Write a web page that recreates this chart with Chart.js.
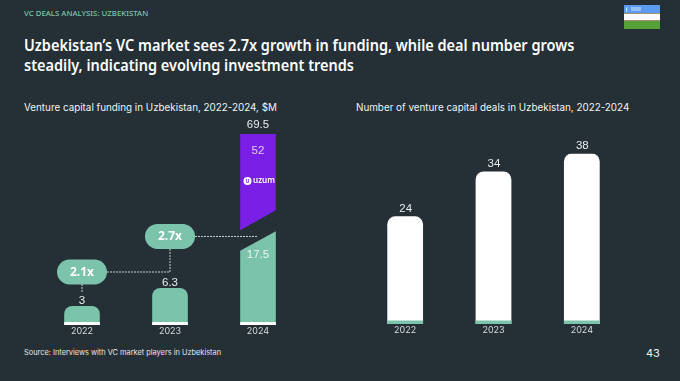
<!DOCTYPE html>
<html lang="en">
<head>
<meta charset="UTF-8">
<title>VC deals analysis: Uzbekistan</title>
<script src="https://cdn.jsdelivr.net/npm/chart.js"></script>
<style>
  html, body { margin: 0; padding: 0; }
  body { width: 680px; height: 381px; background: #242f36; position: relative; overflow: hidden; font-family: "Inter", sans-serif; }
  .t { position: absolute; white-space: nowrap; }
  canvas { position: absolute; }
  #kicker { left: 24px; top: 6.5px; font: 500 7.8px/12px "Noto Sans", sans-serif; color: #7bc4ab; }
  #headline { left: 23.5px; top: 36px; font: 600 15.5px/19.5px "Noto Sans", sans-serif; color: #fff; transform: scaleX(0.935); transform-origin: left top; }
  .sub { top: 100px; font: 400 9.85px/14px "Inter", sans-serif; color: #f2f4f4; }
  #source { left: 24px; top: 347px; font: 400 7.4px/12px "Inter", sans-serif; color: #e4e8e8; }
  #page { left: 646px; top: 346px; font: 400 11px/14px "Inter", sans-serif; color: #f2f4f4; }
  #flag { position: absolute; left: 624px; top: 5px; width: 36px; height: 24px;
    background: linear-gradient(#5b9bf0 0 8px, #a88f70 8px 8.6px, #fff 8.6px 15.4px, #a88f70 15.4px 16px, #55a038 16px); }
  #flag i { position: absolute; left: 2px; top: 1.5px; width: 3px; height: 5px; border-left: 1px solid #fff; border-radius: 50%; }
  #flag b { position: absolute; left: 7px; top: 2px; width: 10px; height: 4px;
    background: radial-gradient(circle, #dcebff 0.6px, transparent 0.8px) 0 0 / 2px 2px; }
</style>
</head>
<body>
<div class="t" id="kicker">VC DEALS ANALYSIS: UZBEKISTAN</div>
<div id="flag"><i></i><b></b></div>
<div class="t" id="headline">Uzbekistan’s VC market sees 2.7x growth in funding, while deal number grows<br>steadily, indicating evolving investment trends</div>
<div class="t sub" style="left:24px">Venture capital funding in Uzbekistan, 2022-2024, $M</div>
<div class="t sub" style="left:356px">Number of venture capital deals in Uzbekistan, 2022-2024</div>
<canvas id="funding" width="264" height="235" style="left:38px;top:110px"></canvas>
<canvas id="deals" width="265" height="234" style="left:361px;top:110px"></canvas>
<div class="t" id="source">Source: Interviews with VC market players in Uzbekistan</div>
<div class="t" id="page">43</div>

<script>
const years = ['2022', '2023', '2024'];
const otherFunding = [3, 6.3, 17.5];
const uzumFunding = [null, null, 52];
const fundingTotals = ['3', '6.3', '69.5'];
const growthLabels = ['2.1x', '2.7x'];
const dealCounts = [24, 34, 38];

const BG = '#242f36', TEAL = '#7bc4ab', PURPLE = '#7a1fe6', TICK = '#d9dfdf';
const NUM_FONT = '11.5px "Liberation Sans", sans-serif';

// the funding axis in the original is not to scale, the 2024 bar is cut
class BrokenScale extends Chart.LinearScale {
  getPixelForValue(v) {
    if (v === null || v === undefined) return NaN;
    const vals = this.options.stopValues, fr = this.options.stopFractions;
    let i = 1;
    while (i < vals.length - 1 && v > vals[i]) i++;
    const f = fr[i - 1] + (v - vals[i - 1]) / (vals[i] - vals[i - 1]) * (fr[i] - fr[i - 1]);
    return this.getPixelForDecimal(f);
  }
}
BrokenScale.id = 'broken';
BrokenScale.defaults = {};
Chart.register(BrokenScale);

function label(ctx, text, x, y, color, font) {
  ctx.fillStyle = color;
  ctx.font = font || NUM_FONT;
  ctx.textAlign = 'center';
  ctx.textBaseline = 'middle';
  ctx.fillText(text, x, y);
}

function dashed(ctx, pts) {
  ctx.save();
  ctx.strokeStyle = '#c9d2d2';
  ctx.lineWidth = 1;
  ctx.setLineDash([2, 1]);
  ctx.beginPath();
  pts.forEach((p, i) => i ? ctx.lineTo(p[0], p[1]) : ctx.moveTo(p[0], p[1]));
  ctx.stroke();
  ctx.restore();
}

function pill(ctx, text, x, y) {
  ctx.fillStyle = TEAL;
  ctx.beginPath();
  ctx.roundRect(x - 25, y - 12.5, 50, 25, 12.5);
  ctx.fill();
  label(ctx, text, x, y + 0.5, '#fff', '700 12px "Noto Sans", sans-serif');
}

const fundingMarks = {
  id: 'fundingMarks',
  afterDatasetsDraw(chart) {
    const ctx = chart.ctx;
    const teal = chart.getDatasetMeta(0).data;
    const uzum = chart.getDatasetMeta(1).data[2];
    const base = chart.scales.y.bottom;

    // white strip at the foot of each bar
    ctx.fillStyle = '#fff';
    teal.forEach(b => ctx.fillRect(b.x - b.width / 2, base - 3, b.width, 3));

    // slanted cut between the two parts of the 2024 bar
    const L = uzum.x - uzum.width / 2 - 0.5, R = uzum.x + uzum.width / 2 + 0.5, y = uzum.base;
    ctx.fillStyle = BG;
    ctx.beginPath();
    ctx.moveTo(L, y);
    ctx.lineTo(R, y - 20.5);
    ctx.lineTo(R, y + 0.5);
    ctx.lineTo(L, y + 20.5);
    ctx.closePath();
    ctx.fill();

    label(ctx, fundingTotals[0], teal[0].x, teal[0].y - 5.5, '#e8ecec');
    label(ctx, fundingTotals[1], teal[1].x, teal[1].y - 5.5, '#e8ecec');
    label(ctx, fundingTotals[2], uzum.x, uzum.y - 9, '#e8ecec');
    label(ctx, String(uzumFunding[2]), uzum.x, uzum.y + 16.5, '#e3ccff');
    label(ctx, String(otherFunding[2]), uzum.x, y + 24, '#eaf5f1');

    // uzum logo
    ctx.fillStyle = '#fff';
    ctx.beginPath();
    ctx.arc(uzum.x - 10.5, uzum.y + 47, 4, 0, Math.PI * 2);
    ctx.fill();
    label(ctx, 'U', uzum.x - 10.5, uzum.y + 47.3, PURPLE, '700 5px "Noto Sans", sans-serif');
    label(ctx, 'uzum', uzum.x + 6, uzum.y + 46.5, '#fff', '600 8px "Noto Sans", sans-serif');

    // growth pills and connectors
    const y1 = teal[0].y - 34, y2 = teal[1].y - 51.5;
    dashed(ctx, [[teal[0].x, y1 + 12], [teal[0].x, teal[0].y - 13]]);
    dashed(ctx, [[teal[0].x + 25, y1], [teal[1].x, y1], [teal[1].x, y2 + 12]]);
    dashed(ctx, [[teal[1].x + 25, y2], [teal[2].x, y2]]);
    pill(ctx, growthLabels[0], teal[0].x, y1);
    pill(ctx, growthLabels[1], teal[1].x, y2);
  }
};

const dealMarks = {
  id: 'dealMarks',
  afterDatasetsDraw(chart) {
    const ctx = chart.ctx;
    const base = chart.scales.y.bottom;
    chart.getDatasetMeta(0).data.forEach((b, i) => {
      ctx.fillStyle = TEAL;
      ctx.fillRect(b.x - b.width / 2, base - 3.5, b.width, 3.5);
      label(ctx, String(dealCounts[i]), b.x + 0.5, b.y - 7.5, '#e8ecec');
    });
  }
};

const xAxis = {
  offset: true,
  stacked: true,
  afterFit(s) { s.height = 20; },
  grid: { display: false, drawTicks: false },
  border: { display: false },
  ticks: { color: TICK, padding: 1, maxRotation: 0, font: { family: 'Inter', size: 9 } }
};

const common = {
  responsive: false,
  animation: false,
  devicePixelRatio: 1,
  plugins: { legend: { display: false }, tooltip: { enabled: false } }
};

new Chart(document.getElementById('funding'), {
  type: 'bar',
  data: {
    labels: years,
    datasets: [
      { data: otherFunding, backgroundColor: TEAL, borderSkipped: false,
        borderRadius: c => c.dataIndex === 2 ? 0 : { topLeft: 8, topRight: 8, bottomLeft: 0, bottomRight: 0 } },
      { data: uzumFunding, backgroundColor: PURPLE }
    ]
  },
  options: {
    ...common,
    layout: { padding: { top: 24 } },
    datasets: { bar: { barPercentage: 0.405, categoryPercentage: 1 } },
    scales: {
      x: xAxis,
      y: { type: 'broken', display: false, stacked: true, min: 0, max: 69.5,
           stopValues: [0, 3, 6.3, 17.5, 69.5],
           stopFractions: [0, 0.0995, 0.194, 0.495, 1] }
    }
  },
  plugins: [fundingMarks]
});

new Chart(document.getElementById('deals'), {
  type: 'bar',
  data: {
    labels: years,
    datasets: [
      { data: dealCounts, backgroundColor: '#fff', borderSkipped: false,
        borderRadius: { topLeft: 8, topRight: 8, bottomLeft: 0, bottomRight: 0 } }
    ]
  },
  options: {
    ...common,
    layout: { padding: { top: 43.5 } },
    datasets: { bar: { barPercentage: 0.405, categoryPercentage: 1 } },
    scales: {
      x: xAxis,
      y: { display: false, min: 0, max: 38 }
    }
  },
  plugins: [dealMarks]
});
</script>
</body>
</html>
